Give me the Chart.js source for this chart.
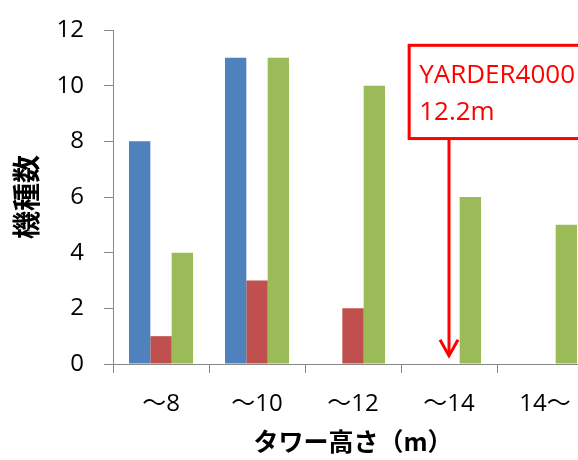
<!DOCTYPE html>
<html>
<head>
<meta charset="utf-8">
<script src="https://cdn.jsdelivr.net/npm/chart.js@4.4.1/dist/chart.umd.min.js"></script>
<style>
  html, body { margin: 0; padding: 0; overflow: hidden; background: #fff; width: 578px; height: 460px; }
  #wrap { position: relative; width: 600px; height: 460px; }
</style>
</head>
<body>
<div id="wrap"><canvas id="c" width="600" height="460"></canvas></div>
<script>
// Tower height classes and number of models in each class
const categories = ['～8', '～10', '～12', '～14', '14～'];
const seriesA = [8, 11, 0, 0, 0];
const seriesB = [1, 3, 2, 0, 0];
const seriesC = [4, 11, 10, 6, 5];
const yTicks = [0, 2, 4, 6, 8, 10, 12];

// Callout for the YARDER4000 tower height
const calloutLines = ['YARDER4000', '12.2m'];
const calloutCategory = 3;      // points into the "～14" class
const calloutTipValue = 0.3;
const calloutTopValue = 11.45;
const calloutBottomValue = 8.1;

const AXIS_GREY = '#888888';
const RED = '#ff0000';

const calloutPlugin = {
  id: 'callout',
  afterDatasetsDraw(chart) {
    const { ctx, scales: { x, y } } = chart;
    const cx = x.getPixelForValue(calloutCategory);
    const step = x.getPixelForValue(1) - x.getPixelForValue(0);
    const left = cx - 0.415 * step;
    const top = y.getPixelForValue(calloutTopValue);
    const bottom = y.getPixelForValue(calloutBottomValue);
    const tip = y.getPixelForValue(calloutTipValue);
    const right = chart.width + 30;

    ctx.save();
    ctx.lineWidth = 3;
    ctx.strokeStyle = RED;
    ctx.fillStyle = '#ffffff';
    ctx.fillRect(left, top, right - left, bottom - top);
    ctx.strokeRect(left, top, right - left, bottom - top);

    // arrow shaft and head
    ctx.lineCap = 'butt';
    ctx.beginPath();
    ctx.moveTo(cx, bottom);
    ctx.lineTo(cx, tip);
    ctx.stroke();
    ctx.beginPath();
    ctx.moveTo(cx - 9, tip - 16);
    ctx.lineTo(cx, tip);
    ctx.lineTo(cx + 9, tip - 16);
    ctx.stroke();

    // label
    ctx.fillStyle = RED;
    ctx.font = '26px "Open Sans", "Noto Sans", sans-serif';
    ctx.textBaseline = 'alphabetic';
    ctx.textAlign = 'left';
    calloutLines.forEach((line, i) => {
      ctx.fillText(line, left + 10, top + 38 + i * 37);
    });
    ctx.restore();
  }
};

new Chart(document.getElementById('c'), {
  type: 'bar',
  data: {
    labels: categories,
    datasets: [
      { label: 'A', data: seriesA, backgroundColor: '#4f81bd' },
      { label: 'B', data: seriesB, backgroundColor: '#c0504d' },
      { label: 'C', data: seriesC, backgroundColor: '#9bbb59' }
    ]
  },
  options: {
    responsive: false,
    animation: false,
    events: [],
    layout: { padding: { top: 30, right: 7, bottom: 0, left: 0 } },
    datasets: { bar: { categoryPercentage: 0.667, barPercentage: 1.0 } },
    plugins: { legend: { display: false }, tooltip: { enabled: false } },
    scales: {
      x: {
        grid: { display: true, offset: true, drawOnChartArea: false, drawTicks: true, tickLength: 9, color: AXIS_GREY },
        border: { display: true, color: AXIS_GREY, width: 1 },
        ticks: { color: '#000', padding: 17, font: { family: '"Open Sans", "Noto Sans CJK JP", sans-serif', size: 24 } },
        title: {
          display: true,
          text: 'タワー高さ（m）',
          color: '#000',
          padding: { top: 0, bottom: 4 },
          font: { family: '"Noto Sans CJK JP", sans-serif', size: 25, weight: 'bold' }
        },
        afterFit(scale) { scale.height = 96; }
      },
      y: {
        min: 0,
        max: 12,
        afterBuildTicks(scale) { scale.ticks = yTicks.map(v => ({ value: v })); },
        grid: { display: true, drawOnChartArea: false, drawTicks: true, tickLength: 9, color: AXIS_GREY },
        border: { display: true, color: AXIS_GREY, width: 1 },
        ticks: { color: '#000', padding: 20, font: { family: '"Open Sans", sans-serif', size: 24 } },
        title: {
          display: true,
          text: '機種数',
          color: '#000',
          padding: { top: 10, bottom: 0 },
          font: { family: '"Noto Sans CJK JP", sans-serif', size: 28, weight: 'bold' }
        },
        afterFit(scale) {
          scale.width = 113;
          scale.paddingTop = 14;
          scale.paddingBottom = 14;
        }
      }
    }
  },
  plugins: [calloutPlugin]
});
</script>
</body>
</html>
